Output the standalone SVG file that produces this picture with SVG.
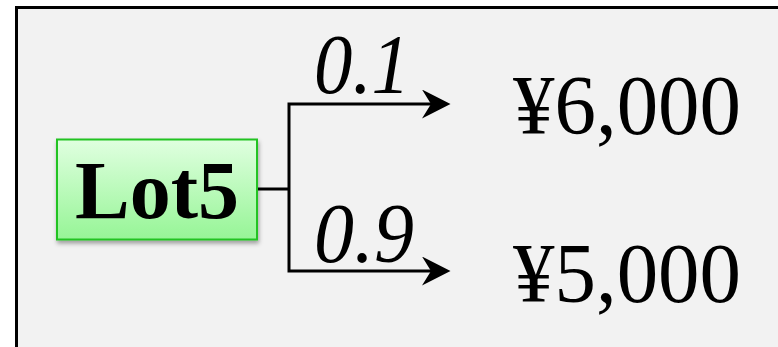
<svg xmlns="http://www.w3.org/2000/svg" width="778" height="347" viewBox="0 0 778 347">
<style>
.frame{fill:#f2f2f2;stroke:#000;stroke-width:3}
.box{fill:url(#g);stroke:#22c322;stroke-width:2}
.edge{fill:none;stroke:#000;stroke-width:3}
.lbl{font-family:"Liberation Serif","Times New Roman",serif;font-style:italic;font-size:84px;fill:#000}
.val{font-family:"Liberation Serif","Times New Roman",serif;font-size:84px;fill:#000}
.name{font-family:"Liberation Serif","Times New Roman",serif;font-weight:bold;font-size:82px;fill:#000}
</style>
<defs>
<linearGradient id="g" x1="0" y1="0" x2="0" y2="1">
<stop offset="0" stop-color="#e0ffe0"/>
<stop offset="1" stop-color="#96f596"/>
</linearGradient>
<filter id="sh" x="-10%" y="-10%" width="125%" height="130%">
<feDropShadow dx="1" dy="3" stdDeviation="2" flood-color="#000" flood-opacity="0.35"/>
</filter>
<marker id="ah" viewBox="0 0 29 29" markerWidth="29" markerHeight="29" refX="9" refY="14.5" orient="auto" markerUnits="userSpaceOnUse">
<path d="M0,0 L28.5,14.5 L0,29 L9,14.5 Z" fill="#000"/>
</marker>
</defs>
<rect class="frame" x="16.5" y="7.5" width="780" height="360"/>
<g id="connectors">
<path class="edge" d="M257,189 H289"/>
<path class="edge" d="M289,189 V104 H431" marker-end="url(#ah)"/>
<path class="edge" d="M289,189 V271 H431" marker-end="url(#ah)"/>
<text class="lbl" x="314" y="93" textLength="96" lengthAdjust="spacingAndGlyphs">0.1</text>
<text class="lbl" x="314" y="262" textLength="100" lengthAdjust="spacingAndGlyphs">0.9</text>
</g>
<g id="lot5">
<rect class="box" x="57" y="139.5" width="200" height="100" filter="url(#sh)"/>
<text class="name" x="157" y="218" text-anchor="middle">Lot5</text>
</g>
<g id="out6000">
<text class="val" x="513" y="134" textLength="228" lengthAdjust="spacingAndGlyphs">¥6,000</text>
</g>
<g id="out5000">
<text class="val" x="513" y="302" textLength="228" lengthAdjust="spacingAndGlyphs">¥5,000</text>
</g>
</svg>
